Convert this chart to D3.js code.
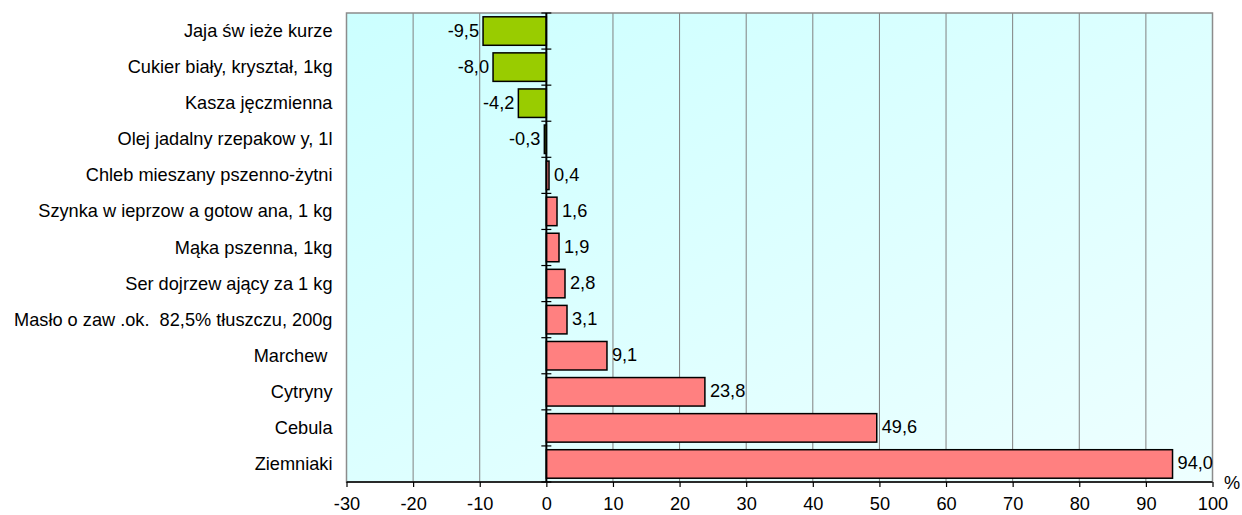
<!DOCTYPE html>
<html><head><meta charset="utf-8">
<script src="https://cdn.jsdelivr.net/npm/d3@7/dist/d3.min.js"></script>
<style>body{margin:0;background:#fff;} text{font-family:"Liberation Sans",Arial,sans-serif;}</style>
</head><body><svg id="c" width="1242" height="515"></svg>
<script>
const categories = ["Jaja św ieże kurze","Cukier biały, kryształ, 1kg","Kasza jęczmienna","Olej jadalny rzepakow y, 1l","Chleb mieszany pszenno-żytni","Szynka w ieprzow a gotow ana, 1 kg","Mąka pszenna, 1kg","Ser dojrzew ający za 1 kg","Masło o zaw .ok.  82,5% tłuszczu, 200g","Marchew ","Cytryny","Cebula","Ziemniaki"];
const values = [-9.5,-8.0,-4.2,-0.3,0.4,1.6,1.9,2.8,3.1,9.1,23.8,49.6,94.0];
const xTicks = [-30,-20,-10,0,10,20,30,40,50,60,70,80,90,100];
const unitLabel = "%";

const FS = "18.2px";
const svg = d3.select("#c");
const L=346.5, R=1212.5, T=13, B=482;
const x = d3.scaleLinear().domain([-30,100]).range([L,R]);
const y = d3.scaleBand().domain(categories).range([T,B]).paddingInner(0.21).paddingOuter(0.105);

const defs = svg.append("defs");
const g = defs.append("linearGradient").attr("id","bg").attr("x1","0").attr("y1","0").attr("x2","1").attr("y2","1");
g.append("stop").attr("offset","0").attr("stop-color","#ccffff");
g.append("stop").attr("offset","1").attr("stop-color","#eeffff");

svg.append("rect").attr("x",L).attr("y",T).attr("width",R-L).attr("height",B-T).attr("fill","url(#bg)");

// gridlines
svg.append("g").selectAll("line").data(xTicks.filter(d=>d!==-30&&d!==0&&d!==100)).join("line")
  .attr("x1",d=>x(d)).attr("x2",d=>x(d)).attr("y1",T).attr("y2",B)
  .attr("stroke","#808080").attr("stroke-width",1);

// border
svg.append("rect").attr("x",L).attr("y",T).attr("width",R-L).attr("height",B-T)
  .attr("fill","none").attr("stroke","#8c8c8c").attr("stroke-width",1.5);

// bars
svg.append("g").selectAll("rect").data(values).join("rect")
  .attr("x",d=>x(Math.min(0,d))).attr("y",(d,i)=>y(categories[i]))
  .attr("width",d=>Math.abs(x(d)-x(0))).attr("height",y.bandwidth())
  .attr("fill",d=>d<0?"#99cc00":"#ff8080").attr("stroke","#000").attr("stroke-width",1.5);

// value labels
svg.append("g").selectAll("text").data(values).join("text")
  .attr("x",d=>d<0?x(d)-4:x(d)+5).attr("y",(d,i)=>y(categories[i])+y.bandwidth()/2+5.5)
  .attr("text-anchor",d=>d<0?"end":"start").attr("font-size",FS).attr("fill","#000")
  .text(d=>d.toFixed(1).replace(".",","));

// bottom axis
const xa = d3.axisBottom(x).tickValues(xTicks).tickSize(5).tickFormat(d=>d);
const ax = svg.append("g").attr("transform",`translate(0,${B})`).call(xa);
ax.select(".domain").attr("stroke","#000").attr("stroke-width",1.5).attr("d",`M${L},0H${R}`);
ax.selectAll(".tick line").attr("stroke","#000").attr("stroke-width",1.2);
ax.selectAll(".tick text").attr("font-size",FS).attr("fill","#000").attr("y",28).attr("dy",null)
  .style("font-family","'Liberation Sans',Arial,sans-serif");

// zero axis with category ticks
svg.append("line").attr("x1",x(0)).attr("x2",x(0)).attr("y1",T).attr("y2",B).attr("stroke","#000").attr("stroke-width",2);
const bounds = d3.range(categories.length+1).map(i=>T + i*(B-T)/categories.length);
svg.append("g").selectAll("line").data(bounds).join("line")
  .attr("x1",x(0)-5).attr("x2",x(0)+5).attr("y1",d=>d).attr("y2",d=>d)
  .attr("stroke","#000").attr("stroke-width",1.2);

// category labels
svg.append("g").selectAll("text").data(categories).join("text")
  .attr("x",332.5).attr("y",d=>y(d)+y.bandwidth()/2+6)
  .attr("text-anchor","end").attr("font-size",FS).attr("fill","#000")
  .attr("xml:space","preserve").style("white-space","pre")
  .text(d=>d);

svg.append("text").attr("x",1224).attr("y",489).attr("font-size",FS).text(unitLabel);
</script></body></html>
